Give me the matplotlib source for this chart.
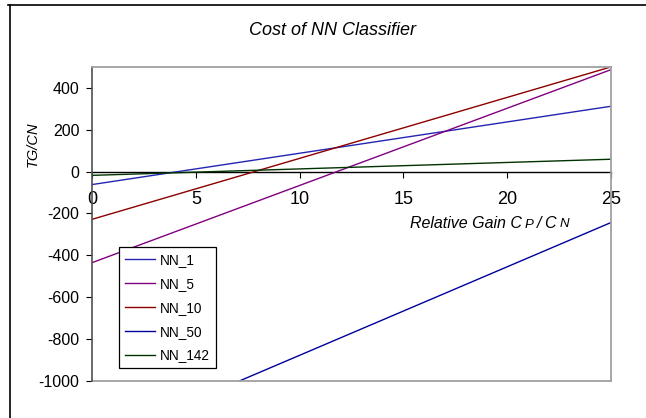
import matplotlib

matplotlib.use("Agg")
import matplotlib.pyplot as plt
from matplotlib.lines import Line2D

plt.rcParams["font.family"] = ["Liberation Sans", "DejaVu Sans"]
plt.rcParams["axes.unicode_minus"] = False

# relative gain Cp/Cn at the ends of each cost line
gain = [0, 25]
nn_1 = [-62, 312]
nn_5 = [-435, 487]
nn_10 = [-228, 500]
nn_50 = [-1300, -243]
nn_142 = [-18, 59]

series = [
    ("NN_1", nn_1, "#2424b4"),
    ("NN_5", nn_5, "#800080"),
    ("NN_10", nn_10, "#8c0000"),
    ("NN_50", nn_50, "#00009c"),
    ("NN_142", nn_142, "#003300"),
]

x_ticks = [0, 5, 10, 15, 20, 25]
y_ticks = [-1000, -800, -600, -400, -200, 0, 200, 400]

fig = plt.figure(figsize=(6.46, 4.18), dpi=100)
ax = fig.add_axes([0.1424, 0.0885, 0.8036, 0.7515])

for name, vals, color in series:
    ax.plot(gain, vals, color=color, linewidth=1.0, label=name)

ax.set_xlim(0, 25)
ax.set_ylim(-1000, 500)

# x axis runs along TG = 0, the frame bottom stays at -1000
ax.spines["bottom"].set_position(("data", 0))
ax.spines["bottom"].set_color("black")
ax.spines["bottom"].set_linewidth(1.0)
ax.spines["bottom"].set_zorder(1)
ax.spines["left"].set_color("#505050")
ax.spines["left"].set_linewidth(1.2)
for side in ("top", "right"):
    ax.spines[side].set_color("#a0a0a0")
    ax.spines[side].set_linewidth(1.3)
ax.plot([0, 1], [0, 0], transform=ax.transAxes, color="#a0a0a0", linewidth=1.3, clip_on=False)

ax.set_xticks(x_ticks)
ax.set_yticks(y_ticks)
ax.tick_params(axis="x", direction="out", length=4, width=0.8, pad=10, labelsize=13)
ax.tick_params(axis="y", direction="out", length=4, width=0.8, pad=5, labelsize=11.5)

# axis title with the small P and N of Cp / Cn
t1 = ax.text(0.613, 0.487, "Relative Gain C", transform=ax.transAxes, fontsize=11.5,
             style="italic", va="baseline", ha="left")
t2 = ax.annotate("P", xy=(1, 0.03), xycoords=t1, fontsize=9.5, style="italic",
                 va="bottom", ha="left", xytext=(2, 0), textcoords="offset points")
t3 = ax.annotate("/ C", xy=(1, -0.03), xycoords=t2, fontsize=11.5, style="italic",
                 va="bottom", ha="left", xytext=(2, 0), textcoords="offset points")
ax.annotate("N", xy=(1, 0.03), xycoords=t3, fontsize=9.5, style="italic",
            va="bottom", ha="left", xytext=(1.5, 0), textcoords="offset points")

fig.text(0.051, 0.655, "TG/CN", rotation=90, fontsize=10.5, style="italic",
         ha="center", va="center")
fig.text(0.515, 0.928, "Cost of NN Classifier", fontsize=13, style="italic",
         ha="center", va="center")

leg = ax.legend(loc="lower left", bbox_to_anchor=(0.052, 0.041), fontsize=9.8,
                frameon=True, fancybox=False, edgecolor="black", framealpha=1,
                borderaxespad=0, borderpad=0.42, labelspacing=0.72,
                handlelength=2.2, handletextpad=0.4)
leg.get_frame().set_linewidth(0.9)

# outer chart border
fig.add_artist(Line2D([0.0125, 1.0], [0.988, 0.988], color="black", linewidth=1.2))
fig.add_artist(Line2D([0.0155, 0.0155], [0.0, 0.988], color="black", linewidth=1.2))

fig.savefig("out.png", dpi=100)
